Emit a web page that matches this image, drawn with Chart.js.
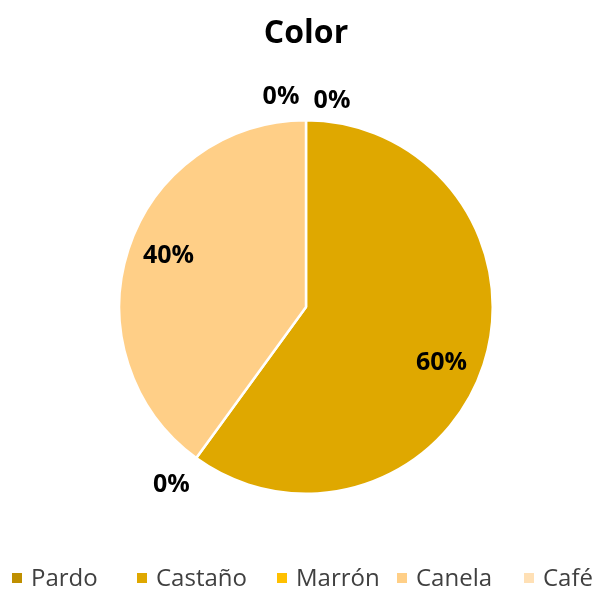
<!DOCTYPE html>
<html>
<head>
<meta charset="utf-8">
<script src="https://cdn.jsdelivr.net/npm/chart.js@4"></script>
<style>
  html, body { margin: 0; padding: 0; background: #fff; }
  #wrap { width: 615px; height: 590px; position: relative; }
</style>
</head>
<body>
<div id="wrap"><canvas id="pieChart" width="615" height="590"></canvas></div>
<script>
// Data
const chartTitle = 'Color';
const categories = ['Pardo', 'Castaño', 'Marrón', 'Canela', 'Café'];
const percents = [0, 60, 0, 40, 0];
const sliceColors = ['#bf8f00', '#dfa800', '#ffc000', '#ffcf87', '#ffe0b5'];

// legend item x positions (box left edge)
const legendX = [12, 137, 277, 397, 524];
// small nudges for the percent labels, [dx, dy]
const labelNudge = [[26, 1], [-3, 11], [-13, 11], [1, -6], [-25, -3]];

const FONT = '"Open Sans", "Noto Sans", sans-serif';

// Title, slice labels and legend drawn by hand to match the reference layout
const decorPlugin = {
    id: 'decor',
    afterDraw(chart) {
        const ctx = chart.ctx;
        const meta = chart.getDatasetMeta(0);
        ctx.save();

        // title
        ctx.fillStyle = '#000';
        ctx.font = 'bold 32px ' + FONT;
        ctx.textAlign = 'center';
        ctx.textBaseline = 'middle';
        ctx.fillText(chartTitle, 306, 34);

        // percentage labels
        ctx.font = 'bold 25px ' + FONT;
        meta.data.forEach((arc, i) => {
            const p = arc.getProps(['x', 'y', 'startAngle', 'endAngle', 'outerRadius'], true);
            const mid = (p.startAngle + p.endAngle) / 2;
            const d = percents[i] === 0 ? p.outerRadius + 20 : p.outerRadius * 0.78;
            const x = p.x + Math.cos(mid) * d + labelNudge[i][0];
            const y = p.y + Math.sin(mid) * d + labelNudge[i][1];
            ctx.fillText(percents[i] + '%', x, y);
        });

        // legend
        ctx.font = '24px ' + FONT;
        ctx.textAlign = 'left';
        categories.forEach((name, i) => {
            ctx.fillStyle = sliceColors[i];
            ctx.fillRect(legendX[i], 573, 10, 10);
            ctx.fillStyle = '#404040';
            ctx.fillText(name, legendX[i] + 19, 579);
        });

        ctx.restore();
    }
};

new Chart(document.getElementById('pieChart'), {
    type: 'pie',
    data: {
        labels: categories,
        datasets: [{
            data: percents,
            backgroundColor: sliceColors,
            borderColor: '#ffffff',
            borderWidth: 2.5
        }]
    },
    options: {
        responsive: false,
        animation: false,
        layout: {
            padding: { top: 119, bottom: 95, left: 118, right: 121 }
        },
        plugins: {
            legend: { display: false },
            title: { display: false },
            tooltip: { enabled: false }
        }
    },
    plugins: [decorPlugin]
});
</script>
</body>
</html>
